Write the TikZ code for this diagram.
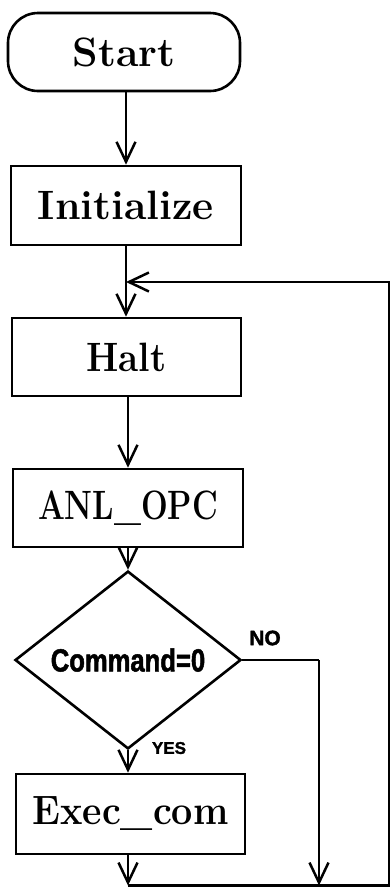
\documentclass[tikz,border=0pt]{standalone}
\usepackage{fontspec}
\usepackage{graphicx}
\usetikzlibrary{shapes.geometric,arrows.meta}
\newfontfamily\lblfont{Liberation Sans}[FakeBold=1.5]
\newfontfamily\condfont{Liberation Sans}[FakeStretch=0.8,FakeBold=1.5]
\newfontfamily\heavyfont{Latin Modern Roman}[UprightFeatures={FakeBold=1.2}]
\newcommand{\wfit}[2]{\resizebox{#1}{\height}{#2}}
\begin{document}
\begin{tikzpicture}[x=1pt,y=-1pt,line width=2.5pt,
  box/.style={draw,line width=2.6pt,inner sep=0pt,font=\fontsize{41}{45}\selectfont\bfseries},
  decision/.style={draw,diamond,line width=2.6pt,inner sep=0pt,minimum width=226pt,minimum height=155pt,font=\condfont\bfseries\fontsize{32}{34}\selectfont},
  arr/.style={-{Straight Barb[length=20pt,width=19pt,line width=2.5pt]}},
  lbl/.style={inner sep=0pt,font=\lblfont\bfseries}]
\useasboundingbox (0,0) rectangle (391,887);
\node[box,rounded corners=30pt,minimum width=232pt,minimum height=78pt] (start) at (124,52) {Start};
\node[box,minimum width=230pt,minimum height=79pt] (init) at (126,205.5) {Initialize};
\node[box,minimum width=229pt,minimum height=78pt] (halt) at (126.5,357) {\wfit{80pt}{Halt}};
\node[box,minimum width=230pt,minimum height=78pt] (anl) at (128,508) {\wfit{180pt}{ANL\_OPC}};
\node[decision] (dia) at (128,660) {Command=0};
\node[box,minimum width=229pt,minimum height=80pt] (exec) at (130.5,814) {\wfit{196pt}{Exec\_com}};
\node[lbl,font=\lblfont\bfseries\fontsize{21}{22}\selectfont] (no) at (265,638) {NO};
\node[lbl,font=\lblfont\bfseries\fontsize{17}{18}\selectfont] (yes) at (169,748) {YES};
\coordinate (j) at (126,282);
\coordinate (rt) at (389,282);
\coordinate (rb) at (389,885.5);
\coordinate (bj) at (128,885.5);
\coordinate (nc) at (319,660);
\coordinate (nb) at (319,885.5);
\draw[arr] (start.south -| 126,0) -- (init.north -| 126,0);
\draw (init.south -| 126,0) -- (j);
\draw[arr] (j) -- (halt.north -| 126,0);
\draw[arr] (halt.south -| 128,0) -- (anl.north -| 128,0);
\draw[arr] (anl.south) -- (dia.north);
\draw[arr] (dia.south) -- (exec.north -| 128,0);
\draw[arr] (exec.south -| 128,0) -- (bj);
\draw (dia.east) -- (nc);
\draw[arr] (nc) -- (nb);
\draw[arr] (bj) -- (rb) -- (rt) -- (j);
\end{tikzpicture}
\end{document}
